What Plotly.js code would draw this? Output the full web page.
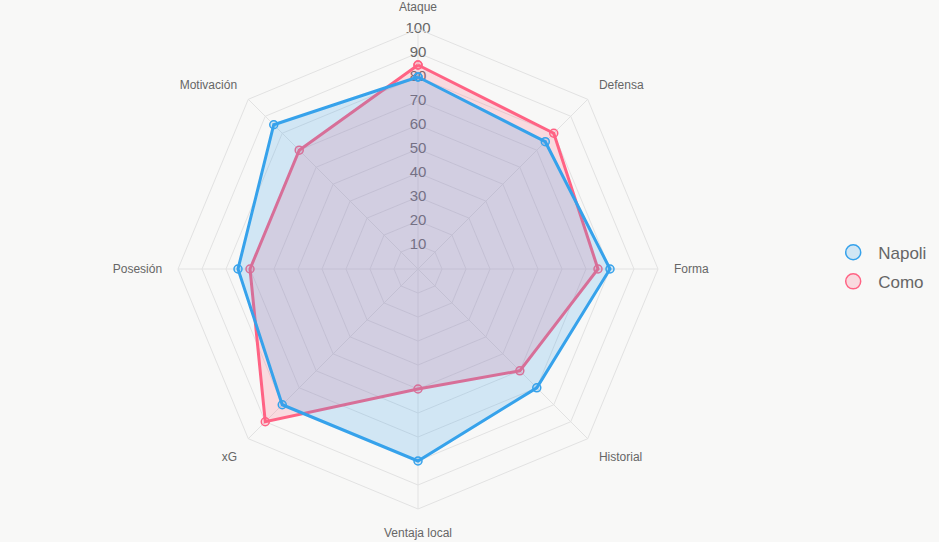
<!DOCTYPE html>
<html>
<head>
<meta charset="utf-8">
<script src="https://cdn.plot.ly/plotly-3.0.1.min.js"></script>
<style>
html,body{margin:0;padding:0;background:#f8f8f7;}
#chart{width:939px;height:542px;}
</style>
</head>
<body>
<div id="chart"></div>
<script>
const categories = ["Ataque","Defensa","Forma","Historial","Ventaja local","xG","Posesión","Motivación"];
const napoli = [80,75,80,70,80,80,75,85];
const como = [85,80,75,60,50,90,70,70];
const tickValues = [10,20,30,40,50,60,70,80,90,100];
const seriesNames = ["Napoli","Como"];

const blue = "rgb(54,162,235)", blueFill = "rgba(54,162,235,0.2)";
const pink = "rgb(255,99,132)", pinkFill = "rgba(255,99,132,0.2)";

function closed(a){ return a.concat([a[0]]); }

const traces = [
  {
    type:"scatterpolar", mode:"text",
    r: tickValues, theta: tickValues.map(()=>categories[0]),
    text: tickValues.map(String),
    textfont:{family:"Liberation Sans, Arial, sans-serif", size:15, color:"#666"},
    textposition:"middle center",
    showlegend:false, hoverinfo:"skip", cliponaxis:false
  },
  {
    type:"scatterpolar", mode:"lines+markers", name:seriesNames[1],
    r: closed(como), theta: closed(categories),
    fill:"toself", fillcolor:pinkFill,
    line:{color:pink, width:3},
    marker:{symbol:"circle", size:8, color:pinkFill, line:{color:pink, width:1.5}},
    showlegend:false, cliponaxis:false
  },
  {
    type:"scatterpolar", mode:"lines+markers", name:seriesNames[0],
    r: closed(napoli), theta: closed(categories),
    fill:"toself", fillcolor:blueFill,
    line:{color:blue, width:3},
    marker:{symbol:"circle", size:8, color:blueFill, line:{color:blue, width:1.5}},
    showlegend:false, cliponaxis:false
  },
  {
    type:"scatterpolar", mode:"markers", name:seriesNames[0], legendgroup:"a", legendrank:1,
    r:[null], theta:[categories[0]],
    marker:{symbol:"circle", size:15, color:blueFill, line:{color:blue, width:1.5}},
    showlegend:true, hoverinfo:"skip"
  },
  {
    type:"scatterpolar", mode:"markers", name:seriesNames[1], legendgroup:"b", legendrank:2,
    r:[null], theta:[categories[0]],
    marker:{symbol:"circle", size:15, color:pinkFill, line:{color:pink, width:1.5}},
    showlegend:true, hoverinfo:"skip"
  }
];

const layout = {
  width:939, height:542,
  paper_bgcolor:"#f8f8f7", plot_bgcolor:"#f8f8f7",
  margin:{l:0,r:0,t:0,b:0},
  font:{family:"Liberation Sans, Arial, sans-serif", color:"#666"},
  showlegend:true,
  legend:{x:0.882, y:0.507, xanchor:"left", yanchor:"middle",
          font:{size:17, color:"#666"}, bgcolor:"rgba(0,0,0,0)", itemsizing:"trace",
          itemwidth:40, traceorder:"grouped", tracegroupgap:4},
  polar:{
    domain:{x:[178/939, 658/939], y:[33/542, 513/542]},
    bgcolor:"rgba(0,0,0,0)",
    gridshape:"linear",
    radialaxis:{range:[0,100], tickvals:tickValues, showticklabels:false, ticks:"",
                showline:false, gridcolor:"#e2e2e2", gridwidth:1, angle:90},
    angularaxis:{rotation:90, direction:"clockwise", gridcolor:"#e2e2e2", linecolor:"#e2e2e2",
                 ticks:"outside", ticklen:13, tickcolor:"rgba(0,0,0,0)",
                 tickfont:{size:12, color:"#666"}, showline:true}
  }
};

Plotly.newPlot("chart", traces, layout, {displayModeBar:false, staticPlot:true});
</script>
</body>
</html>
